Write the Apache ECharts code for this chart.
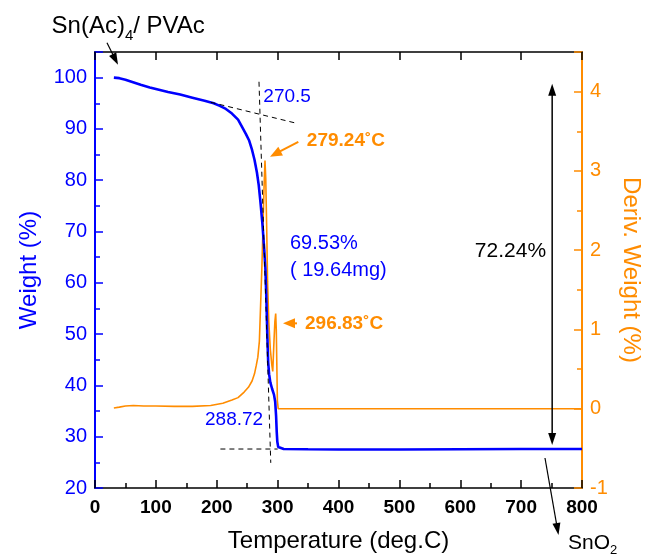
<!DOCTYPE html>
<html><head><meta charset="utf-8">
<script src="https://cdn.jsdelivr.net/npm/echarts@6/dist/echarts.min.js"></script>
<style>html,body{margin:0;padding:0;background:#fff}#c{width:645px;height:555px}</style>
</head><body><div id="c"></div>
<script>
// ---- data ----
const tempW = [31, 40, 50, 60, 75, 90, 100, 120, 140, 160, 180, 195, 205, 215, 225, 235, 242, 248, 253, 258, 262, 266, 269, 272, 275, 278, 280, 281.5, 283, 284.5, 286, 288, 291, 294, 296, 297.5, 298.5, 299.5, 301, 304, 310, 350, 400, 500, 600, 700, 800];
const weight = [100, 99.9, 99.6, 99.2, 98.6, 98.1, 97.8, 97.2, 96.7, 96.1, 95.5, 95.0, 94.5, 93.9, 93.0, 91.8, 90.3, 89.0, 87.8, 85.9, 84.0, 81.5, 79.0, 75.5, 71.5, 66.5, 62.5, 57.0, 50.0, 44.5, 42.2, 40.6, 39.3, 38.2, 36.8, 34.0, 31.0, 29.0, 28.0, 27.7, 27.6, 27.55, 27.5, 27.5, 27.55, 27.6, 27.6];
const tempD = [31, 40, 50, 63, 80, 100, 130, 160, 190, 210, 225, 235, 245, 252, 258, 262, 265, 267.5, 270, 272, 274, 276, 277.5, 279.24, 280.5, 282, 283.5, 285.5, 288, 290.5, 292, 294, 295.5, 296.83, 297.8, 298.8, 299.6, 301, 310, 400, 500, 600, 700, 800];
const deriv = [0.01, 0.02, 0.035, 0.04, 0.035, 0.034, 0.03, 0.03, 0.04, 0.07, 0.11, 0.14, 0.21, 0.27, 0.35, 0.44, 0.55, 0.65, 0.85, 1.3, 1.75, 2.3, 2.75, 3.13, 2.9, 2.3, 1.6, 1.1, 0.75, 0.55, 0.47, 0.85, 1.1, 1.2, 1.0, 0.5, 0.1, 0.0, 0.0, 0, 0, 0, 0, 0];

// dashed construction lines (temperature, weight)
const tangentTop = [[190, 95.2], [333, 91.05]];
const tangentSteep = [[269.4, 99.2], [288.72, 24.9]];
const residueLine = [[206, 27.6], [300, 27.6]];

// annotations anchored in data coordinates (temperature, weight)
const noteText = ['270.5', '279.24˚C', '296.83˚C', '69.53%', '( 19.64mg)', '288.72', '72.24%'];
const noteT = [276.5, 348, 345, 320.3, 320.3, 180.7, 624];
const noteW = [96.2, 87.65, 52.1, 67.6, 62.5, 33.3, 66.1];
const noteKind = ['blue', 'orangeBold', 'orangeBold', 'blue', 'blue', 'blue', 'black'];

const arrowFrom = [[19.7, 106.8], [334, 87.5], [331.8, 52.1], [739.2, 25.85]];
const arrowTo = [[37.8, 102.5], [287.5, 84.6], [308.8, 52.1], [761.4, 10.84]];
const arrowKind = ['black', 'orange', 'orange', 'black'];
const doubleArrow = [[751, 98.8], [751, 28.4]];

const BLUE = '#0000ff', ORANGE = '#ff8c00', BLACK = '#000000';
const FONT = 'Liberation Sans, Arial, Helvetica, sans-serif';

const zip = (a, b) => a.map((v, i) => [v, b[i]]);

const chart = echarts.init(document.getElementById('c'), null, {renderer: 'canvas'});

const dashed = (d) => ({
  type: 'line', data: d, xAxisIndex: 0, yAxisIndex: 0, symbol: 'none', silent: true, z: 5,
  lineStyle: {color: BLACK, width: 1, type: [5, 4]}
});

chart.setOption({
  animation: false,
  backgroundColor: '#fff',
  grid: {left: 95, right: 63, top: 52, bottom: 67, containLabel: false, outerBoundsMode: 'none'},
  xAxis: [
    {
      type: 'value', position: 'bottom', min: 0, max: 800, interval: 100,
      axisLine: {onZero: false, lineStyle: {color: BLACK, width: 1.5}},
      axisTick: {inside: true, length: 8, lineStyle: {color: BLACK, width: 1.5}},
      minorTick: {show: true, splitNumber: 2, length: 5, lineStyle: {color: BLACK, width: 1.5}},
      splitLine: {show: false}, minorSplitLine: {show: false},
      axisLabel: {color: BLACK, fontWeight: 'bold', fontSize: 19, margin: 10, fontFamily: FONT},
      name: 'Temperature (deg.C)', nameLocation: 'middle', nameGap: 41,
      nameTextStyle: {color: BLACK, fontSize: 24, fontFamily: FONT}
    },
    {
      type: 'value', position: 'top', min: 0, max: 800, interval: 100,
      axisLine: {onZero: false, lineStyle: {color: BLACK, width: 1.5}},
      axisTick: {inside: true, length: 8, lineStyle: {color: BLACK, width: 1.5}},
      axisLabel: {show: false}, splitLine: {show: false}
    }
  ],
  yAxis: [
    {
      type: 'value', position: 'left', min: 20, max: 105, interval: 10,
      axisLine: {onZero: false, lineStyle: {color: BLUE, width: 2}},
      axisTick: {inside: true, length: 8, lineStyle: {color: BLUE, width: 1.5}},
      splitLine: {show: false},
      axisLabel: {color: BLUE, fontSize: 20, margin: 8, fontFamily: FONT,
        formatter: v => (v % 10 === 0 ? String(v) : '')},
      name: 'Weight (%)', nameLocation: 'middle', nameGap: 54, nameRotate: 90,
      nameTextStyle: {color: BLUE, fontSize: 24, fontFamily: FONT}
    },
    {
      type: 'value', position: 'left', min: 20, max: 105, interval: 5,
      axisLine: {show: false, onZero: false},
      axisTick: {inside: true, length: 5, lineStyle: {color: BLUE, width: 1.5}},
      axisLabel: {show: false}, splitLine: {show: false}
    },
    {
      type: 'value', position: 'right', min: -1, max: 4.5, interval: 1,
      axisLine: {onZero: false, lineStyle: {color: ORANGE, width: 2}},
      axisTick: {inside: true, length: 8, lineStyle: {color: ORANGE, width: 1.5}},
      splitLine: {show: false},
      axisLabel: {color: ORANGE, fontSize: 20, margin: 8, fontFamily: FONT,
        formatter: v => (Number.isInteger(v) ? String(v) : '')},
      name: 'Deriv. Weight (%)', nameLocation: 'middle', nameGap: 37, nameRotate: -90,
      nameTextStyle: {color: ORANGE, fontSize: 24, fontFamily: FONT}
    },
    {
      type: 'value', position: 'right', min: -1, max: 4.5, interval: 0.5,
      axisLine: {show: false, onZero: false},
      axisTick: {inside: true, length: 5, lineStyle: {color: ORANGE, width: 1.5}},
      axisLabel: {show: false}, splitLine: {show: false}
    }
  ],
  series: [
    {
      type: 'line', name: 'deriv', data: zip(tempD, deriv), xAxisIndex: 0, yAxisIndex: 2,
      symbol: 'none', z: 2, lineStyle: {color: ORANGE, width: 1.6}, itemStyle: {color: ORANGE}
    },
    {
      type: 'line', name: 'weight', data: zip(tempW, weight), xAxisIndex: 0, yAxisIndex: 0,
      symbol: 'none', z: 3, lineStyle: {color: BLUE, width: 2.6}, itemStyle: {color: BLUE}
    },
    dashed(tangentTop), dashed(tangentSteep), dashed(residueLine)
  ]
});

// ---- annotations, placed through the axes' own scales ----
const toPx = (p) => chart.convertToPixel({xAxisIndex: 0, yAxisIndex: 0}, p);

function arrowHead(tip, tail, len, wid, color) {
  const dx = tip[0] - tail[0], dy = tip[1] - tail[1];
  const L = Math.hypot(dx, dy), ux = dx / L, uy = dy / L;
  const bx = tip[0] - ux * len, by = tip[1] - uy * len;
  const nx = -uy * wid / 2, ny = ux * wid / 2;
  return {
    type: 'polygon', z: 100,
    shape: {points: [tip, [bx + nx, by + ny], [bx - nx, by - ny]]},
    style: {fill: color}
  };
}
function arrow(fromD, toD, color, lw, len, wid) {
  const a = toPx(fromD), b = toPx(toD);
  const L = Math.hypot(b[0] - a[0], b[1] - a[1]);
  const ux = (b[0] - a[0]) / L, uy = (b[1] - a[1]) / L;
  const end = [b[0] - ux * len * 0.8, b[1] - uy * len * 0.8];
  return [
    {type: 'line', z: 100, shape: {x1: a[0], y1: a[1], x2: end[0], y2: end[1]},
      style: {stroke: color, lineWidth: lw}},
    arrowHead(b, a, len, wid, color)
  ];
}

const g = [];
const styleOf = {
  blue: {fill: BLUE, fontWeight: 'normal', size: 20},
  black: {fill: BLACK, fontWeight: 'normal', size: 21},
  orangeBold: {fill: ORANGE, fontWeight: 'bold', size: 19}
};
noteText.forEach((t, i) => {
  const p = toPx([noteT[i], noteW[i]]);
  const s = styleOf[noteKind[i]];
  g.push({type: 'text', z: 100, x: p[0], y: p[1],
    style: {text: t, fill: s.fill, fontWeight: s.fontWeight, fontSize: (i === 0 || i === 5) ? 19 : s.size,
      fontFamily: FONT, align: 'left', verticalAlign: 'middle'}});
});

// labels with subscripts
const p1 = toPx([-71.4, 109.9]);
g.push({type: 'text', z: 100, x: p1[0], y: p1[1],
  style: {text: '{a|Sn(Ac)}{s|4}{a|/ PVAc}', align: 'left', verticalAlign: 'middle',
    rich: {
      a: {fontSize: 24, fontFamily: FONT, fill: BLACK, lineHeight: 32, verticalAlign: 'middle'},
      s: {fontSize: 15, fontFamily: FONT, fill: BLACK, lineHeight: 15, verticalAlign: 'bottom'}
    }}});
const p2 = toPx([777, 9.3]);
g.push({type: 'text', z: 100, x: p2[0], y: p2[1],
  style: {text: '{a|SnO}{s|2}', align: 'left', verticalAlign: 'middle',
    rich: {
      a: {fontSize: 21, fontFamily: FONT, fill: BLACK, lineHeight: 28, verticalAlign: 'middle'},
      s: {fontSize: 13, fontFamily: FONT, fill: BLACK, lineHeight: 13, verticalAlign: 'bottom'}
    }}});

arrowFrom.forEach((f, i) => {
  const c = arrowKind[i] === 'orange' ? ORANGE : BLACK;
  const lw = arrowKind[i] === 'orange' ? 2 : 1.2;
  const wid = arrowKind[i] === 'orange' ? 10 : 8;
  g.push(...arrow(f, arrowTo[i], c, lw, 12, wid));
});

// double-headed arrow
{
  const a = toPx(doubleArrow[0]), b = toPx(doubleArrow[1]);
  g.push({type: 'line', z: 100, shape: {x1: a[0], y1: a[1] + 9, x2: b[0], y2: b[1] - 9},
    style: {stroke: BLACK, lineWidth: 1.5}});
  g.push(arrowHead(a, b, 12, 8, BLACK));
  g.push(arrowHead(b, a, 12, 8, BLACK));
}

chart.setOption({graphic: g});
</script>
</body></html>
